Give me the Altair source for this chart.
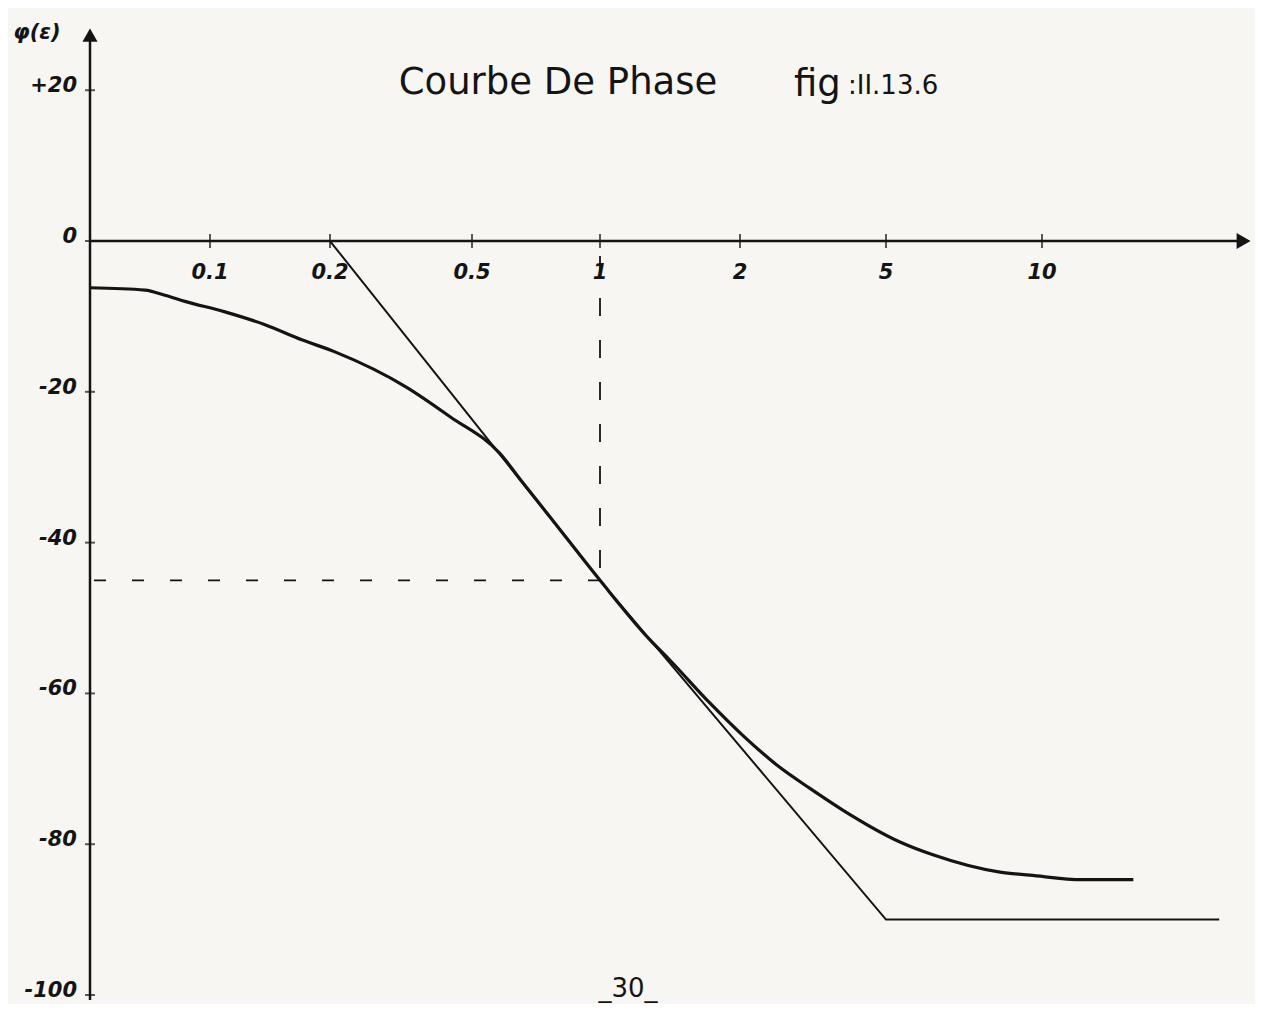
import altair as alt
import pandas as pd

# ---- data ----
x_ticks = [0.1, 0.2, 0.5, 1, 2, 5, 10]
x_labels = ["0.1", "0.2", "0.5", "1", "2", "5", "10"]
y_ticks = [20, 0, -20, -40, -60, -80, -100]
y_labels = ["+20", "0", "-20", "-40", "-60", "-80", "-100"]

curve_x = [0.05, 0.0687, 0.0771, 0.0865, 0.109, 0.1374, 0.170, 0.2065,
           0.328, 0.434, 0.582, 0.655, 0.763, 1.0, 1.281, 1.414, 1.724, 2.038,
           2.52, 3.102, 3.82, 5.32, 6.16, 8.30, 9.48, 12.4, 16.2]
curve_y = [-6.2, -6.5, -7.2, -8.0, -9.4, -11.1, -13.1, -14.7,
           -19.4, -23.3, -28.2, -31.9, -36.6, -45.0, -52.9, -55.6, -61.3, -65.6,
           -69.5, -72.6, -75.5, -79.7, -81.4, -83.7, -84.1, -84.7, -84.7]

asym_x = [0.2, 1, 5, 25.5]
asym_y = [0, -45, -90, -90]

cut_x = 1
cut_y = -45

# hand-drawn log axis: anchor values and where they sit along the axis
x_anchor = [0.05, 0.1, 0.2, 0.5, 1, 2, 5, 10, 30]
x_anchor_pos = [0, 120, 240, 382, 510, 650, 796, 952, 1160]
x_min = 0.05
x_axis_end = 28.5
y_min, y_max = -100.66, 28.65

W, H = 1160, 975
INK = "#141414"
LABEL_FONT = "DejaVu Sans"

xs = alt.Scale(type="log", domain=x_anchor, range=x_anchor_pos, nice=False)
ys = alt.Scale(type="linear", domain=[y_min, y_max], nice=False, zero=False)


def X(field):
    return alt.X(field, type="quantitative", scale=xs, axis=None)


def Y(field):
    return alt.Y(field, type="quantitative", scale=ys, axis=None)


curve_df = pd.DataFrame({"x": curve_x, "y": curve_y})
asym_df = pd.DataFrame({"x": asym_x, "y": asym_y})
xt_df = pd.DataFrame({"x": x_ticks, "y": [0] * len(x_ticks), "label": x_labels})
yt_df = pd.DataFrame({"x": [x_min] * len(y_ticks), "y": y_ticks, "label": y_labels})

# axes
x_axis_line = alt.Chart(pd.DataFrame({"x": [x_min], "x2": [x_axis_end], "y": [0]})).mark_rule(
    color=INK, strokeWidth=2.5).encode(x=X("x"), x2="x2", y=Y("y"))
y_axis_line = alt.Chart(pd.DataFrame({"x": [x_min], "y": [y_min], "y2": [27.0]})).mark_rule(
    color=INK, strokeWidth=2.5).encode(x=X("x"), y=Y("y"), y2="y2")
x_arrow = alt.Chart(pd.DataFrame({"x": [29.0], "y": [0]})).mark_point(
    shape="triangle-right", filled=True, color=INK, size=260, opacity=1).encode(x=X("x"), y=Y("y"))
y_arrow = alt.Chart(pd.DataFrame({"x": [x_min], "y": [27.3]})).mark_point(
    shape="triangle-up", filled=True, color=INK, size=230, opacity=1).encode(x=X("x"), y=Y("y"))

x_tick_marks = alt.Chart(xt_df).mark_tick(
    orient="vertical", size=14, thickness=2, color=INK).encode(x=X("x"), y=Y("y"))
y_tick_marks = alt.Chart(yt_df).mark_tick(
    orient="horizontal", size=10, thickness=2, color=INK).encode(x=X("x"), y=Y("y"))

x_tick_text = alt.Chart(xt_df).mark_text(
    dy=32, fontSize=21, font=LABEL_FONT, fontWeight="bold", fontStyle="italic",
    color=INK).encode(x=X("x"), y=Y("y"), text="label")
y_tick_text = alt.Chart(yt_df).mark_text(
    align="right", dx=-13, dy=-4, fontSize=21, font=LABEL_FONT, fontWeight="bold",
    fontStyle="italic", color=INK).encode(x=X("x"), y=Y("y"), text="label")

y_title = alt.Chart(pd.DataFrame({"x": [x_min], "y": [27.6], "t": ["φ(ε)"]})).mark_text(
    dx=-53, fontSize=21, font=LABEL_FONT, fontWeight="bold", fontStyle="italic",
    color=INK).encode(x=X("x"), y=Y("y"), text="t")

# curves
asymptote = alt.Chart(asym_df).mark_line(color=INK, strokeWidth=2).encode(x=X("x"), y=Y("y"))
phase = alt.Chart(curve_df).mark_line(
    color=INK, strokeWidth=3.2, interpolate="monotone").encode(x=X("x"), y=Y("y"))

dash_v = alt.Chart(pd.DataFrame({"x": [cut_x], "y": [-2.0], "y2": [cut_y]})).mark_rule(
    color=INK, strokeWidth=1.8, strokeDash=[18, 24]).encode(x=X("x"), y=Y("y"), y2="y2")
dash_h = alt.Chart(pd.DataFrame({"x": [x_min], "x2": [cut_x], "y": [cut_y]})).mark_rule(
    color=INK, strokeWidth=1.8, strokeDash=[12, 26], strokeDashOffset=-4).encode(
    x=X("x"), x2="x2", y=Y("y"))

# titles / annotations
title = alt.Chart(pd.DataFrame({"t": ["Courbe De Phase"]})).mark_text(
    fontSize=37, font="DejaVu Sans", color=INK, align="center", baseline="middle").encode(
    x=alt.value(468), y=alt.value(58), text="t")
fig_a = alt.Chart(pd.DataFrame({"t": ["fig"]})).mark_text(
    fontSize=37, font="DejaVu Sans", color=INK, align="left", baseline="middle").encode(
    x=alt.value(704), y=alt.value(60), text="t")
fig_b = alt.Chart(pd.DataFrame({"t": [":II.13.6"]})).mark_text(
    fontSize=26, font="DejaVu Sans", color=INK, align="left", baseline="middle").encode(
    x=alt.value(758), y=alt.value(61), text="t")
page_no = alt.Chart(pd.DataFrame({"t": ["_30_"]})).mark_text(
    fontSize=26, font="DejaVu Sans", color=INK, align="center", baseline="middle").encode(
    x=alt.value(538), y=alt.value(964), text="t")

chart = alt.layer(
    dash_v, dash_h, asymptote, phase,
    x_axis_line, y_axis_line, x_arrow, y_arrow,
    x_tick_marks, y_tick_marks, x_tick_text, y_tick_text, y_title,
    title, fig_a, fig_b, page_no,
).properties(
    width=W, height=H,
    autosize=alt.AutoSizeParams(type="none"),
    padding={"left": 82, "top": 17, "right": 5, "bottom": 4},
    background="#f7f6f2",
).configure_view(stroke=None)

chart.save("out.html", embed_options={"renderer": "svg", "actions": False})
